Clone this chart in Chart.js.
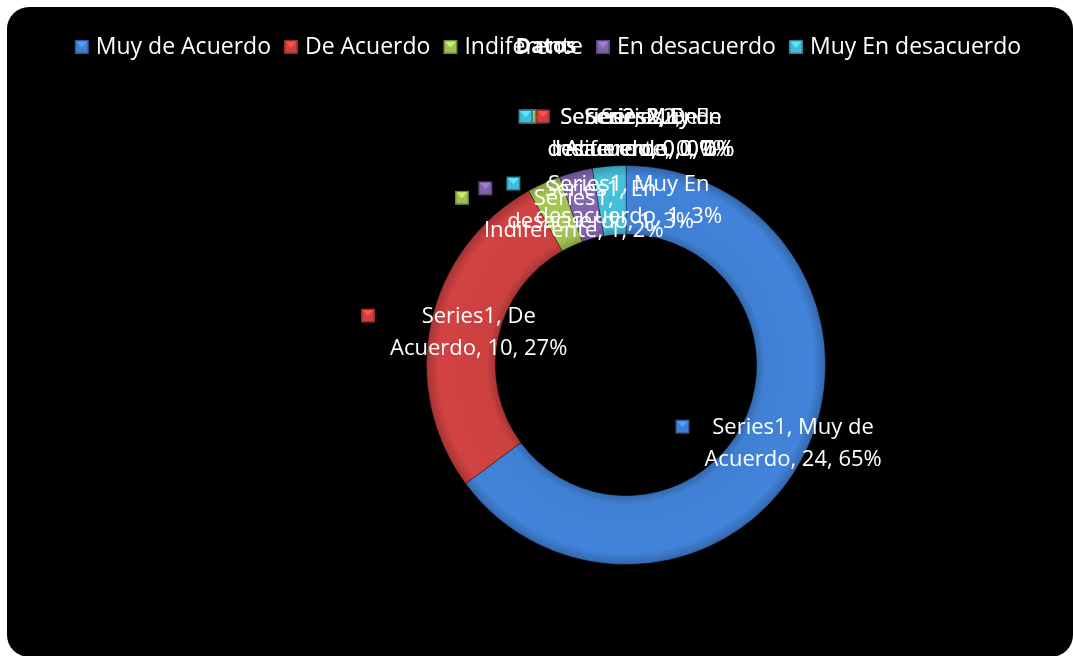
<!DOCTYPE html>
<html>
<head>
<meta charset="utf-8">
<script src="https://cdn.jsdelivr.net/npm/chart.js@4.4.1/dist/chart.umd.min.js"></script>
<style>
  html, body { margin: 0; padding: 0; background: #fff; overflow: hidden; }
  .frame { position: absolute; left: 7px; top: 7px; width: 1066px; height: 650px; background: #000; border-radius: 22px; }
  .wrap { position: absolute; left: 0; top: 0; width: 1073px; height: 656px; }
</style>
</head>
<body>
<div class="frame"></div>
<div class="wrap"><canvas id="datosChart"></canvas></div>
<script>
// Data
const categories = ["Muy de Acuerdo", "De Acuerdo", "Indiferente", "En desacuerdo", "Muy En desacuerdo"];
const series1Values = [24, 10, 1, 1, 1];
const series1Percent = [65, 27, 2, 3, 3];
const series2Values = [0, 0, 0, 0, 0];
const series2Percent = [0, 0, 0, 0, 0];
const sliceColors = ["#4080d4", "#cc4040", "#a0c153", "#8064aa", "#44bcd6"];
const chartTitle = "Datos";

const fontFamily = "'Open Sans', 'Noto Sans', sans-serif";

function shade(hex, f) {
  const n = parseInt(hex.slice(1), 16);
  const c = [(n >> 16) & 255, (n >> 8) & 255, n & 255].map(v => Math.max(0, Math.min(255, Math.round(v * f))));
  return "rgb(" + c.join(",") + ")";
}

// small bevelled square like the office legend keys
function bevelBox(ctx, x, y, s, color) {
  ctx.fillStyle = shade(color, 0.7);
  ctx.fillRect(x, y, s, s);
  ctx.fillStyle = shade(color, 1.0);
  ctx.fillRect(x + 1.5, y + 1.5, s - 3, s - 3);
  ctx.fillStyle = shade(color, 1.25);
  ctx.beginPath();
  ctx.moveTo(x + 1.5, y + 1.5);
  ctx.lineTo(x + s - 1.5, y + 1.5);
  ctx.lineTo(x + s / 2, y + s * 0.55);
  ctx.closePath();
  ctx.fill();
}

function ringFill(context, i) {
  const chart = context.chart;
  const area = chart.chartArea;
  if (!area) return sliceColors[i];
  const cx = (area.left + area.right) / 2, cy = (area.top + area.bottom) / 2;
  const outer = Math.min(area.right - area.left, area.bottom - area.top) / 2;
  const inner = outer * 0.655;
  const g = chart.ctx.createRadialGradient(cx, cy, inner, cx, cy, outer);
  const c = sliceColors[i];
  g.addColorStop(0, shade(c, 0.82));
  g.addColorStop(0.12, shade(c, 1.0));
  g.addColorStop(0.82, shade(c, 1.03));
  g.addColorStop(1, shade(c, 0.8));
  return g;
}

function labelLines(seriesName, cat, value, pct) {
  const words = cat.split(" ");
  const last = words.pop();
  const first = seriesName + "," + (words.length ? " " + words.join(" ") : "");
  return [first, last + ", " + value + ", " + pct + "%"];
}

function drawLabelBlock(ctx, cx, cy, lines, color) {
  ctx.font = "22px " + fontFamily;
  ctx.textAlign = "center";
  ctx.textBaseline = "middle";
  const lh = 32;
  const widest = Math.max(...lines.map(l => ctx.measureText(l).width));
  const top = cy - lh * (lines.length - 1) / 2;
  bevelBox(ctx, cx - widest / 2 - 29, top - 8, 14, color);
  ctx.fillStyle = "#fff";
  lines.forEach((l, k) => ctx.fillText(l, cx, top + k * lh));
}

const decorPlugin = {
  id: "decor",
  afterDraw(chart) {
    const ctx = chart.ctx;
    ctx.save();

    // legend
    ctx.font = "23px " + fontFamily;
    ctx.textBaseline = "middle";
    ctx.textAlign = "left";
    const box = 14, gapText = 7, gapItem = 13;
    const widths = categories.map(c => box + gapText + ctx.measureText(c).width);
    const total = widths.reduce((a, b) => a + b, 0) + gapItem * (categories.length - 1);
    let x = 548 - total / 2;
    const ly = 47;
    categories.forEach((c, i) => {
      bevelBox(ctx, x, ly - 7, box, sliceColors[i]);
      ctx.fillStyle = "#fff";
      ctx.fillText(c, x + box + gapText, ly);
      x += widths[i] + gapItem;
    });

    // title on top of the legend
    ctx.font = "bold 21px " + fontFamily;
    ctx.textAlign = "center";
    ctx.fillStyle = "#fff";
    ctx.fillText(chartTitle, 546, ly);

    // data labels, series 1
    const meta = chart.getDatasetMeta(0);
    meta.data.forEach((arc, i) => {
      const p = arc.getProps(["x", "y", "startAngle", "endAngle", "innerRadius", "outerRadius"], true);
      const a = (p.startAngle + p.endAngle) / 2;
      const r = (p.innerRadius + p.outerRadius) / 2 + 3;
      const lx = p.x + Math.cos(a) * r + 17;
      const ly2 = p.y + Math.sin(a) * r + 3;
      drawLabelBlock(ctx, lx, ly2, labelLines("Series1", categories[i], series1Values[i], series1Percent[i]), sliceColors[i]);
    });

    // zero-valued series 2 labels all pile up at the top of the ring
    const a0 = meta.data[0].getProps(["x", "y", "outerRadius"], true);
    series2Values.forEach((v, i) => {
      drawLabelBlock(ctx, a0.x + 15, a0.y - a0.outerRadius - 32,
        labelLines("Series2", categories[i], v, series2Percent[i]), sliceColors[i]);
    });

    ctx.restore();
  }
};

new Chart(document.getElementById("datosChart"), {
  type: "doughnut",
  data: {
    labels: categories,
    datasets: [{
      label: "Series1",
      data: series1Values,
      backgroundColor: ctx => ringFill(ctx, ctx.dataIndex),
      borderColor: "rgba(0,0,0,0.35)",
      borderWidth: 1
    }]
  },
  options: {
    responsive: true,
    maintainAspectRatio: false,
    animation: false,
    cutout: "65.5%",
    layout: { padding: { left: 426, right: 247, top: 165, bottom: 91 } },
    plugins: {
      legend: { display: false },
      title: { display: false },
      tooltip: { enabled: false }
    }
  },
  plugins: [decorPlugin]
});
</script>
</body>
</html>
